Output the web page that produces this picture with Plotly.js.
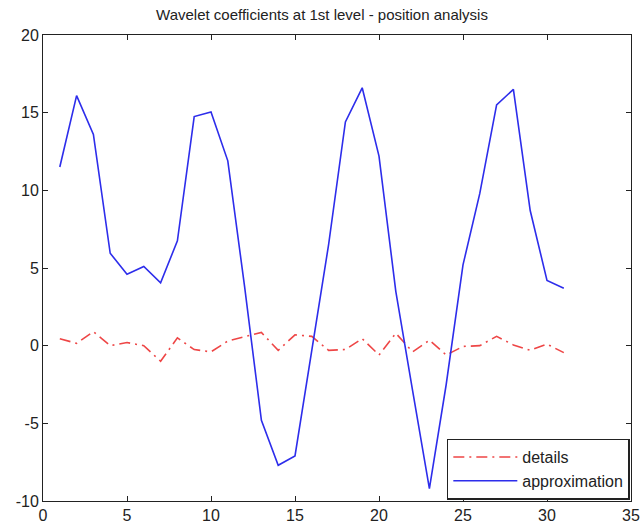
<!DOCTYPE html>
<html>
<head>
<meta charset="utf-8">
<script src="https://cdn.plot.ly/plotly-3.0.1.min.js"></script>
<style>html,body{margin:0;padding:0;background:#fff;}#chart{width:644px;height:529px;}</style>
</head>
<body>
<div id="chart"></div>
<script>
const positions = [1,2,3,4,5,6,7,8,9,10,11,12,13,14,15,16,17,18,19,20,21,22,23,24,25,26,27,28,29,30,31];
const approximation = [11.5,16.1,13.6,5.95,4.6,5.1,4.05,6.75,14.75,15.05,11.9,3.8,-4.8,-7.7,-7.1,-0.2,6.5,14.4,16.6,12.2,3.5,-2.9,-9.2,-2.5,5.2,9.8,15.5,16.5,8.7,4.2,3.7];
const details = [0.45,0.15,0.9,0.0,0.2,0.0,-1.0,0.5,-0.25,-0.4,0.3,0.6,0.85,-0.3,0.7,0.6,-0.3,-0.25,0.45,-0.6,0.8,-0.4,0.35,-0.6,-0.05,0.0,0.6,0.05,-0.3,0.1,-0.45];
const xTicks = [0,5,10,15,20,25,30,35];
const yTicks = [-10,-5,0,5,10,15,20];
const titleText = 'Wavelet coefficients at 1st level - position analysis';

const traces = [
  {x: positions, y: details, name: 'details', type: 'scatter', mode: 'lines', legendgroup: 'g1',
   line: {color: 'rgb(238,70,70)', width: 1.6, dash: '11px,5px,2px,5px'}},
  {x: positions, y: approximation, name: 'approximation', type: 'scatter', mode: 'lines', legendgroup: 'g2',
   line: {color: 'rgb(45,45,235)', width: 1.6}}
];

const axisCommon = {
  showgrid: false, zeroline: false, showline: true, mirror: 'ticks',
  linecolor: '#222', linewidth: 1, ticks: 'inside', ticklen: 5, tickcolor: '#222',
  tickfont: {family: 'Liberation Sans, Arial, sans-serif', size: 16, color: '#222'}
};

const layout = {
  width: 644, height: 529,
  margin: {l: 43, r: 13, t: 35, b: 28},
  paper_bgcolor: '#fff', plot_bgcolor: '#fff',
  title: {text: titleText, x: 0.5, xanchor: 'center', y: 0.972, yanchor: 'middle',
          font: {family: 'Liberation Sans, Arial, sans-serif', size: 15, color: '#222'}},
  xaxis: Object.assign({}, axisCommon, {range: [0, 35], tickvals: xTicks, ticktext: xTicks.map(String)}),
  yaxis: Object.assign({}, axisCommon, {range: [-10, 20], tickvals: yTicks, ticktext: yTicks.map(String)}),
  showlegend: true,
  legend: {x: 0.998, y: 0.003, xanchor: 'right', yanchor: 'bottom', bgcolor: '#fff',
           bordercolor: '#222', borderwidth: 1.5, traceorder: 'grouped', tracegroupgap: 0,
           itemwidth: 64,
           font: {family: 'Liberation Sans, Arial, sans-serif', size: 16, color: '#222'}}
};

Plotly.newPlot('chart', traces, layout, {displayModeBar: false, staticPlot: true});
</script>
</body>
</html>
